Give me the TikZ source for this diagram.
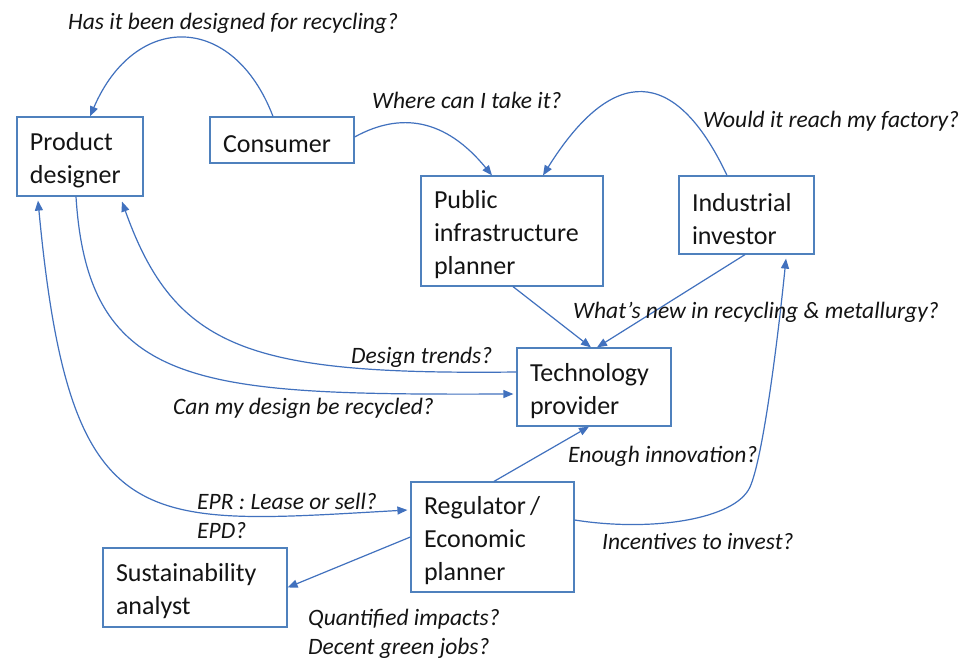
\documentclass[tikz,border=0pt]{standalone}
\usepackage{fontspec}
\setmainfont{Carlito}
\usetikzlibrary{arrows.meta}
\definecolor{lineblue}{RGB}{65,113,190}
\definecolor{boxblue}{RGB}{79,129,189}
\definecolor{txt}{RGB}{20,20,20}
\begin{document}
\begin{tikzpicture}[x=1pt,y=-1pt,
  box/.style={draw=boxblue, line width=1.2pt, fill=white, align=left, inner xsep=13pt, inner ysep=0pt, text=txt, font=\fontsize{26}{33}\selectfont, execute at begin node={\rule{0pt}{26pt}}},
  lab/.style={anchor=west, align=left, inner sep=0pt, text=txt, font=\fontsize{23.5}{28.5}\selectfont\itshape},
  conn/.style={draw=lineblue, line width=1.2pt},
  arr/.style={conn, -{Triangle[length=10pt,width=8pt]}},
  darr/.style={conn, {Triangle[length=10pt,width=8pt]}-{Triangle[length=10pt,width=8pt]}}
]
\useasboundingbox[fill=white] (0,0) rectangle (967,659);

\node[box, text width=100pt, minimum height=79pt] (pd) at (80,156.5) {Product\\designer};
\node[box, text width=118pt, minimum height=46pt] (cons) at (282,140) {Consumer};
\node[box, text width=156pt, minimum height=110pt] (pub) at (512,231) {Public\\infrastructure\\planner};
\node[box, text width=109pt, minimum height=78pt] (ind) at (746.5,215) {Industrial\\investor};
\node[box, text width=128pt, minimum height=78pt] (tech) at (594,387) {Technology\\provider};
\node[box, text width=137pt, minimum height=110pt] (reg) at (492.5,537) {Regulator\,/\\Economic\\planner};
\node[box, text width=158pt, minimum height=79pt] (sus) at (195,587.5) {Sustainability\\analyst};

\draw[arr] ([xshift=-9pt]cons.north) .. controls (233,12) and (135,12) .. ([xshift=10pt]pd.north);
\draw[arr] ([yshift=3pt]cons.east) .. controls (400,112) and (445,118) .. ([xshift=-20pt]pub.north);
\draw[arr] ([xshift=-19.5pt]ind.north) .. controls (675,65) and (612,65) .. ([xshift=31pt]pub.north);
\draw[arr] ([xshift=1pt]pub.south) -- ([xshift=-3pt]tech.north);
\draw[arr] ([xshift=-1.5pt]ind.south) -- ([xshift=3pt]tech.north);
\draw[arr] ([yshift=15pt]tech.west) .. controls (250,375) and (175,350) .. ([xshift=42pt,yshift=-5pt]pd.south);
\draw[arr] ([xshift=-4pt]pd.south) .. controls (88,390) and (200,395) .. ([xshift=-3pt,yshift=-7pt]tech.west);
\draw[darr] ([xshift=-42pt,yshift=-4pt]pd.south) .. controls (70,540) and (140,525) .. ([xshift=-3pt,yshift=27pt]reg.west);
\draw[arr] ([xshift=1.5pt]reg.north) -- ([xshift=-5pt]tech.south);
\draw[arr] ([yshift=17pt]reg.east) .. controls (650,532) and (735,520) .. (750,487) .. controls (763,458) and (778,338) .. ([xshift=39.5pt,yshift=-4pt]ind.south);
\draw[arr] (reg.west) -- (sus.east);

\node[lab] (l1) at (68,23) {Has it been designed for recycling?};
\node[lab] (l2) at (372,100) {Where can I take it?};
\node[lab] (l3) at (703,121) {Would it reach my factory?};
\node[lab] (l4) at (573,312) {What’s new in recycling \& metallurgy?};
\node[lab] (l5) at (351,357) {Design trends?};
\node[lab] (l6) at (173,408) {Can my design be recycled?};
\node[lab] (l7) at (568,456) {Enough innovation?};
\node[lab] (l8) at (602,541) {Incentives to invest?};
\node[lab] (l9) at (197,516) {EPR : Lease or sell?\\EPD?};
\node[lab] (l10) at (308,634) {Quantified impacts?\\Decent green jobs?};
\end{tikzpicture}
\end{document}
